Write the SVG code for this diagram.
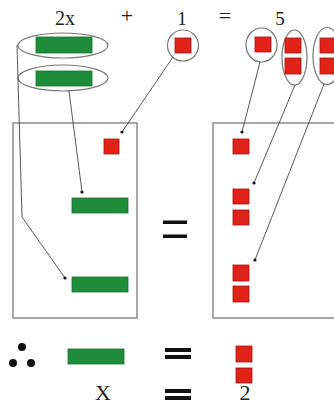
<svg xmlns="http://www.w3.org/2000/svg" width="334" height="407" viewBox="0 0 334 407">
<defs>
<style>
.t{font-family:"Liberation Serif","Times New Roman",serif;fill:#222;text-anchor:middle}
.g{fill:#1f8c3b;stroke:#17702d;stroke-width:0.8}
.r{fill:#e02219;stroke:#a5140f;stroke-width:0.8}
.e{fill:none;stroke:#777;stroke-width:1.2}
.b{fill:none;stroke:#8a8a8a;stroke-width:1.5}
.c{fill:none;stroke:#444;stroke-width:0.9;marker-end:url(#dot)}
.q{fill:#111}
</style>
<marker id="dot" viewBox="-3 -3 6 6" markerWidth="6" markerHeight="6" markerUnits="userSpaceOnUse" refX="0" refY="0"><circle r="1.6" fill="#111"/></marker>
</defs>
<rect width="334" height="407" fill="#fff"/>
<g id="equation">
<text class="t" x="65" y="25" font-size="20">2x</text>
<text class="t" x="127" y="23" font-size="22">+</text>
<text class="t" x="182" y="25" font-size="19">1</text>
<text class="t" x="225" y="23" font-size="22">=</text>
<text class="t" x="280" y="25" font-size="19">5</text>
</g>
<g id="x-group-1">
<ellipse class="e" cx="63" cy="45.5" rx="45" ry="12.5"/>
<rect class="g" x="36" y="37" width="56" height="16"/>
</g>
<g id="x-group-2">
<ellipse class="e" cx="63" cy="78" rx="45" ry="13"/>
<rect class="g" x="36" y="71" width="56" height="15"/>
</g>
<g id="one-group">
<circle class="e" cx="183" cy="45.5" r="15.5"/>
<rect class="r" x="175" y="38" width="16" height="15"/>
</g>
<g id="five-group-1">
<ellipse class="e" cx="261.5" cy="45" rx="15.5" ry="17"/>
<rect class="r" x="255" y="37" width="16" height="15"/>
</g>
<g id="five-group-2">
<ellipse class="e" cx="294.5" cy="57.5" rx="12.5" ry="27.5"/>
<rect class="r" x="285" y="38" width="16" height="15"/>
<rect class="r" x="285" y="58" width="16" height="16"/>
</g>
<g id="five-group-3">
<ellipse class="e" cx="327" cy="56" rx="14" ry="28.5"/>
<rect class="r" x="320" y="38" width="16" height="15"/>
<rect class="r" x="320" y="58" width="16" height="16"/>
</g>
<g id="left-box">
<rect class="b" x="13" y="123" width="124" height="195"/>
<rect class="r" x="104" y="139" width="15" height="15"/>
<rect class="g" x="72" y="198" width="56" height="15"/>
<rect class="g" x="72" y="277" width="56" height="15"/>
</g>
<g id="middle-equals">
<rect class="q" x="163" y="220.5" width="24" height="3.5"/>
<rect class="q" x="163" y="234.5" width="24" height="3.5"/>
</g>
<g id="right-box">
<rect class="b" x="213" y="123" width="130" height="195"/>
<rect class="r" x="233" y="139" width="16" height="15"/>
<rect class="r" x="233" y="189" width="16" height="15"/>
<rect class="r" x="233" y="210" width="16" height="15"/>
<rect class="r" x="233" y="265" width="16" height="16"/>
<rect class="r" x="233" y="286" width="16" height="16"/>
</g>
<g id="connectors">
<polyline class="c" points="17,45 22,217 65,278"/>
<line class="c" x1="69" y1="91" x2="82" y2="192"/>
<line class="c" x1="173" y1="57" x2="122" y2="132"/>
<line class="c" x1="260" y1="62" x2="242" y2="132"/>
<line class="c" x1="295" y1="85" x2="254" y2="183"/>
<line class="c" x1="324" y1="84" x2="255" y2="260"/>
</g>
<g id="conclusion">
<circle class="q" cx="22" cy="347" r="4"/>
<circle class="q" cx="13" cy="363" r="4"/>
<circle class="q" cx="31" cy="363" r="4"/>
<rect class="g" x="68" y="349" width="56" height="15"/>
<rect class="q" x="165" y="348" width="26" height="4"/>
<rect class="q" x="165" y="355" width="26" height="4"/>
<rect class="r" x="236" y="346" width="16" height="16"/>
<rect class="r" x="236" y="368" width="16" height="15"/>
<text class="t" x="103" y="400" font-size="22">X</text>
<rect class="q" x="165" y="389" width="26" height="4"/>
<rect class="q" x="165" y="396" width="26" height="4"/>
<text class="t" x="245" y="400" font-size="22">2</text>
</g>
</svg>
